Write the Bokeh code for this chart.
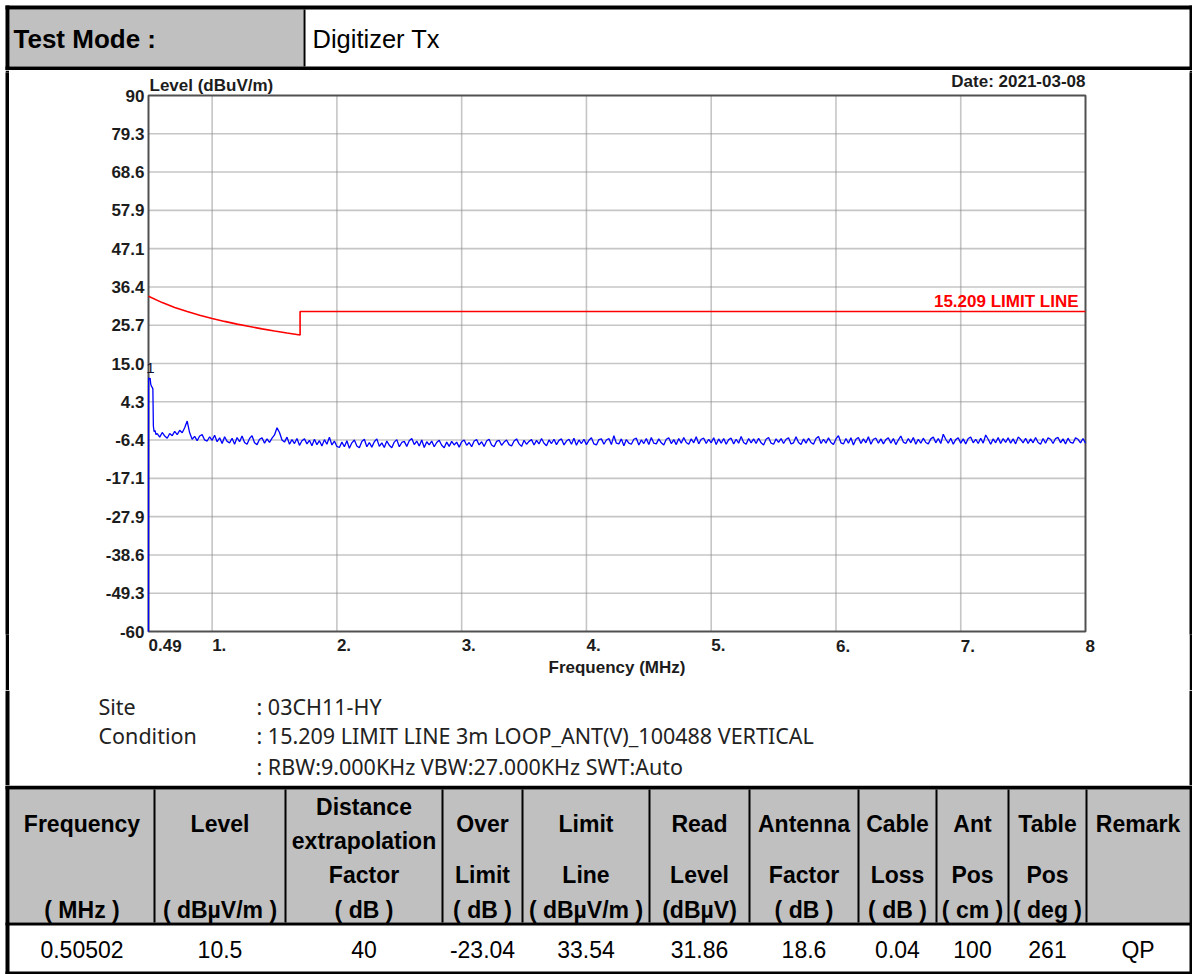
from bokeh.plotting import figure
from bokeh.layouts import column, row
from bokeh.models import Range1d, FixedTicker, Spacer
from bokeh.core.properties import value
from bokeh.embed import file_html
from bokeh.resources import INLINE

FONT = "Liberation Sans"
SITE_FONT = "Noto Sans"

# ---------------- data ----------------
TEST_MODE = "Digitizer Tx"
DATE_TEXT = "Date: 2021-03-08"
Y_LABEL = "Level (dBuV/m)"
X_LABEL = "Frequency (MHz)"
LIMIT_NAME = "15.209 LIMIT LINE"

X_TICKS = [0.49, 1.0, 2.0, 3.0, 4.0, 5.0, 6.0, 7.0, 8.0]
X_TICK_LABELS = ["0.49", "1.", "2.", "3.", "4.", "5.", "6.", "7.", "8"]
Y_MIN, Y_MAX, Y_DIV = -60.0, 90.0, 14
Y_TICK_LABELS = ["-60", "-49.3", "-38.6", "-27.9", "-17.1", "-6.4", "4.3", "15.0",
                 "25.7", "36.4", "47.1", "57.9", "68.6", "79.3", "90"]

LIMIT_FREQ = [0.49, 0.6, 0.7, 0.8, 0.9, 1.0, 1.1, 1.2, 1.3, 1.4, 1.5, 1.6, 1.705, 1.705, 8.0]
LIMIT_LEVEL = [33.80, 32.04, 30.70, 29.54, 28.52, 27.60, 26.78, 26.02, 25.33, 24.68,
               24.08, 23.52, 22.97, 29.54, 29.54]

EARLY_FREQ = [0.490, 0.491, 0.497, 0.503, 0.508, 0.514, 0.520, 0.525, 0.529, 0.535, 0.542, 0.550]
EARLY_LEVEL = [-60.0, 11.0, 10.6, 10.9, 9.2, 8.6, 8.3, 7.9, -2.5, -4.1, -3.7, -4.9]

MAIN_F0 = 0.56
MAIN_STEP = 0.02
MAIN_LEVEL = [
    -4.6, -5.6, -4.3, -5.3, -5.9, -4.6, -5.2, -4.0, -4.9, -3.7,
    -4.4, -3.0, -1.1, -4.4, -6.2, -5.4, -6.6, -5.3, -4.9, -6.4,
    -6.7, -5.5, -6.5, -5.1, -6.9, -5.8, -7.4, -5.5, -6.8, -7.2,
    -5.9, -7.6, -5.7, -6.9, -5.3, -7.1, -7.6, -6.0, -5.2, -7.2,
    -7.7, -6.2, -5.8, -7.3, -6.1, -7.1, -5.9, -5.0, -3.0, -4.3,
    -6.4, -7.0, -5.6, -7.6, -6.3, -7.4, -6.0, -7.9, -6.6, -6.1,
    -7.5, -6.5, -8.0, -6.2, -7.7, -6.6, -8.1, -6.3, -7.6, -5.6,
    -7.8, -6.7, -8.2, -8.5, -7.0, -8.3, -6.6, -8.7, -7.2, -6.4,
    -8.1, -8.6, -6.8, -6.2, -8.3, -7.1, -8.4, -6.9, -6.1, -8.2,
    -7.2, -8.5, -6.7, -7.9, -8.6, -7.0, -6.3, -8.3, -7.1, -6.8,
    -8.2, -6.6, -6.0, -7.7, -6.7, -8.1, -6.4, -8.5, -6.9, -7.8,
    -6.7, -8.3, -7.1, -6.5, -7.9, -8.6, -7.0, -8.2, -6.8, -7.8,
    -7.0, -8.4, -6.9, -6.4, -7.9, -7.1, -8.3, -6.7, -6.3, -7.8,
    -6.9, -8.2, -6.7, -6.2, -7.8, -8.3, -6.8, -6.5, -7.9, -7.0,
    -6.4, -7.7, -8.1, -6.7, -6.1, -7.5, -8.2, -6.5, -7.6, -6.8,
    -6.3, -7.8, -6.5, -7.5, -6.0, -7.3, -8.0, -6.4, -7.4, -6.2,
    -7.7, -6.5, -6.1, -7.8, -6.7, -6.2, -7.6, -5.9, -7.9, -6.4,
    -7.4, -6.2, -7.7, -6.5, -5.8, -7.5, -7.8, -6.3, -6.1, -7.6,
    -6.4, -6.0, -7.7, -5.2, -7.3, -7.5, -6.1, -8.0, -6.3, -7.3,
    -7.6, -6.2, -5.9, -7.8, -6.4, -7.4, -6.0, -7.7, -5.7, -7.3,
    -7.5, -6.1, -7.2, -7.8, -6.2, -5.8, -7.4, -6.3, -7.7, -6.0,
    -7.3, -5.7, -7.1, -7.6, -6.1, -7.2, -5.5, -7.5, -6.2, -5.9,
    -7.4, -6.2, -7.2, -5.8, -7.7, -6.1, -7.3, -6.0, -7.6, -6.3,
    -5.9, -7.5, -6.2, -7.3, -5.4, -7.1, -7.6, -6.0, -7.2, -6.1,
    -7.4, -5.9, -7.2, -7.8, -6.2, -5.7, -7.3, -7.6, -6.1, -7.1,
    -6.0, -7.4, -6.2, -5.8, -7.5, -7.2, -5.5, -7.1, -7.7, -6.1,
    -7.3, -5.9, -7.1, -7.6, -6.0, -5.4, -7.4, -6.2, -7.3, -5.8,
    -7.1, -7.7, -6.1, -5.2, -7.2, -7.5, -6.0, -7.3, -5.8, -7.8,
    -6.2, -5.7, -7.4, -6.1, -7.2, -5.5, -7.6, -6.2, -5.9, -7.3,
    -6.1, -7.5, -6.3, -5.8, -7.3, -6.0, -7.7, -6.4, -5.3, -7.0,
    -7.4, -6.0, -7.2, -5.7, -7.6, -6.2, -7.3, -5.9, -7.1, -7.5,
    -6.1, -5.6, -7.2, -6.0, -7.4, -4.8, -6.2, -7.3, -5.9, -7.6,
    -6.3, -5.8, -7.3, -6.1, -7.5, -6.0, -5.6, -7.2, -6.2, -7.4,
    -5.9, -7.3, -5.0, -6.2, -7.6, -6.1, -7.2, -5.7, -7.4, -6.0,
    -7.1, -5.8, -7.3, -6.1, -7.5, -5.6, -6.2, -7.2, -5.9, -7.4,
    -6.1, -7.2, -5.7, -7.1, -7.6, -6.0, -7.3, -5.8, -6.2, -7.4,
    -6.0, -5.7, -7.2, -6.1, -7.5, -5.9, -7.1, -7.3, -5.8, -6.2,
    -7.2, -6.0, -7.3,
]

MARKER_FREQ = [0.505]
MARKER_LEVEL = [10.5]
MARKER_TEXT = ["1"]

SITE_KEYS = ["Site", "Condition"]
SITE_VALUES = [": 03CH11-HY",
               ": 15.209 LIMIT LINE 3m LOOP_ANT(V)_100488 VERTICAL",
               ": RBW:9.000KHz VBW:27.000KHz SWT:Auto"]

HEAD_1 = ["Frequency", "Level", "", "Over", "Limit", "Read", "Antenna", "Cable", "Ant", "Table", "Remark"]
HEAD_DIST = ["Distance", "extrapolation"]
HEAD_2 = ["", "", "Factor", "Limit", "Line", "Level", "Factor", "Loss", "Pos", "Pos", ""]
HEAD_3 = ["( MHz )", "( dBµV/m )", "( dB )", "( dB )", "( dBµV/m )", "(dBµV)",
          "( dB )", "( dB )", "( cm )", "( deg )", ""]
ROW_1 = ["0.50502", "10.5", "40", "-23.04", "33.54", "31.86", "18.6", "0.04", "100", "261", "QP"]

# ---------------- layout helpers ----------------
W = 1192
BLACK = "#000000"
GRAY = "#c0c0c0"
COL_EDGES = [9, 154, 285, 442, 522, 649, 749, 858, 936, 1008, 1086, 1189]


def canvas(w, h, x0, y0):
    f = figure(width=w, height=h, x_range=Range1d(x0, x0 + w), y_range=Range1d(y0 + h, y0),
               output_backend="svg", toolbar_location=None, min_border=0,
               x_axis_location=None, y_axis_location=None)
    f.grid.visible = False
    f.outline_line_color = None
    f.background_fill_color = "white"
    f.border_fill_color = "white"
    return f


def solid(w, h, color):
    f = figure(width=w, height=h, output_backend="svg", toolbar_location=None, min_border=0,
               x_axis_location=None, y_axis_location=None)
    f.grid.visible = False
    f.outline_line_color = None
    f.background_fill_color = color
    f.border_fill_color = color
    return f


def bars(f, lst, color):
    f.quad(left=[b[0] for b in lst], right=[b[1] for b in lst],
           top=[b[2] for b in lst], bottom=[b[3] for b in lst],
           fill_color=color, line_color=None)


# ---------------- header ----------------
hdr = canvas(W, 70, 0, 0)
bars(hdr, [(9, 303, 9, 66)], GRAY)
bars(hdr, [(5, W, 5, 9), (5, 9, 5, 70), (1189, W, 5, 70), (5, W, 66, 69.5), (303, 305, 9, 66)], BLACK)
hdr.text(x=[13], y=[38], text=["Test Mode :"], text_font=value(FONT), text_font_size="26px",
         text_font_style="bold", text_baseline="middle", text_align="left", text_color="black")
hdr.text(x=[312], y=[38], text=[TEST_MODE], text_font=value(FONT), text_font_size="25.5px",
         text_baseline="middle", text_align="left", text_color="black")

# ---------------- chart ----------------
CH_H = 620
# pixel geometry of the plot box (page coordinates)
BOX_L, BOX_R, BOX_T, BOX_B = 148, 1085, 95, 631
PAD_T, PAD_O = 23, 3
ppx = (BOX_R - BOX_L) / (X_TICKS[-1] - X_TICKS[0])
ppy = (BOX_B - BOX_T) / (Y_MAX - Y_MIN)

p = figure(width=1180, height=CH_H,
           x_range=Range1d(X_TICKS[0] - PAD_O / ppx, X_TICKS[-1] + PAD_O / ppx),
           y_range=Range1d(Y_MIN - PAD_O / ppy, Y_MAX + PAD_T / ppy),
           output_backend="svg", toolbar_location=None,
           min_border_left=BOX_L - PAD_O - 9, min_border_right=1189 - (BOX_R + PAD_O),
           min_border_top=(BOX_T - PAD_T) - 70, min_border_bottom=70 + CH_H - (BOX_B + PAD_O))
p.background_fill_color = "white"
p.border_fill_color = "white"
p.outline_line_color = None
p.grid.visible = False

y_ticks = [Y_MIN + (Y_MAX - Y_MIN) * k / Y_DIV for k in range(Y_DIV + 1)]

LBL_COLOR = "#1c1c1c"
for ax in (p.xaxis[0], p.yaxis[0]):
    ax.axis_line_color = None
    ax.major_tick_out = 0
    ax.major_tick_in = 0
    ax.minor_tick_out = 0
    ax.minor_tick_in = 0
    ax.major_label_text_font = FONT
    ax.major_label_text_font_size = "17px"
    ax.major_label_text_font_style = "bold"
    ax.major_label_text_color = LBL_COLOR

p.xaxis.ticker = FixedTicker(ticks=X_TICKS)
p.xaxis.major_label_overrides = {t: l for t, l in zip(X_TICKS, X_TICK_LABELS)}
p.xaxis.major_label_orientation = -1e-6
p.xaxis.major_label_standoff = 11
p.xaxis.axis_label = X_LABEL
p.xaxis.axis_label_text_font = FONT
p.xaxis.axis_label_text_font_size = "17px"
p.xaxis.axis_label_text_font_style = "bold"
p.xaxis.axis_label_text_color = LBL_COLOR
p.xaxis.axis_label_standoff = -3

p.yaxis.ticker = FixedTicker(ticks=y_ticks)
p.yaxis.major_label_overrides = {t: l for t, l in zip(y_ticks, Y_TICK_LABELS)}
p.yaxis.major_label_standoff = 1

# grid lines (dotted) drawn on the tick values, limited to the plot box
GRID_COLOR = "#8c8c8c"
vx = X_TICKS[1:-1]
p.segment(x0=vx, x1=vx, y0=[Y_MIN] * len(vx), y1=[Y_MAX] * len(vx),
          line_color=GRID_COLOR, line_width=1.6, line_dash="1 1")
hy = y_ticks[1:-1]
p.segment(x0=[X_TICKS[0]] * len(hy), x1=[X_TICKS[-1]] * len(hy), y0=hy, y1=hy,
          line_color=GRID_COLOR, line_width=1.6, line_dash="1 1")
# plot box
p.quad(left=[X_TICKS[0]], right=[X_TICKS[-1]], bottom=[Y_MIN], top=[Y_MAX],
       fill_color=None, line_color="#505050", line_width=2)

p.line(LIMIT_FREQ, LIMIT_LEVEL, line_color="#ff0000", line_width=1.6)

trace_f = EARLY_FREQ + [MAIN_F0 + MAIN_STEP * i for i in range(len(MAIN_LEVEL))]
trace_l = EARLY_LEVEL + MAIN_LEVEL
p.line(trace_f, trace_l, line_color="#0000ff", line_width=1.3)

p.text(x=MARKER_FREQ, y=MARKER_LEVEL, text=MARKER_TEXT, y_offset=-12, text_align="center",
       text_baseline="middle", text_font=value(FONT), text_font_size="15px", text_color="#101030")

p.text(x=[X_TICKS[-1]], y=[LIMIT_LEVEL[-1]], text=[LIMIT_NAME], x_offset=-7, y_offset=-10.5,
       text_align="right", text_baseline="middle", text_font=value(FONT),
       text_font_size="17px", text_font_style="bold", text_color="#ff0000")

p.text(x=[X_TICKS[0]], y=[Y_MAX], text=[Y_LABEL], x_offset=1, y_offset=-10.5,
       text_align="left", text_baseline="middle", text_font=value(FONT),
       text_font_size="17px", text_font_style="bold", text_color=LBL_COLOR)
p.text(x=[X_TICKS[-1]], y=[Y_MAX], text=[DATE_TEXT], x_offset=0, y_offset=-14.5,
       text_align="right", text_baseline="middle", text_font=value(FONT),
       text_font_size="17px", text_font_style="bold", text_color=LBL_COLOR)

chart_row = row(Spacer(width=5, height=CH_H), solid(4, CH_H, BLACK), p, solid(3, CH_H, BLACK),
                spacing=0)

# ---------------- site info ----------------
SITE_TOP, SITE_H = 690, 95
site = canvas(W, SITE_H, 0, SITE_TOP)
bars(site, [(5, 9, SITE_TOP, SITE_TOP + SITE_H), (1189, W, SITE_TOP, SITE_TOP + SITE_H)], BLACK)
site.text(x=[98, 98], y=[706, 735], text=SITE_KEYS, text_font=value(SITE_FONT),
          text_font_size="21.5px", text_align="left", text_baseline="middle", text_color="#222222")
site.text(x=[256, 256, 256], y=[706, 735, 766], text=SITE_VALUES, text_font=value(SITE_FONT),
          text_font_size="21.5px", text_align="left", text_baseline="middle", text_color="#222222")

# ---------------- table ----------------
T_TOP, T_H = 785, 189
tab = canvas(W, T_H, 0, T_TOP)
bars(tab, [(9, 1189, 789, 922)], GRAY)
seps = [(e - 1, e + 1, 789, 922) for e in COL_EDGES[1:-1]]
bars(tab, [(5, W, 785, 789), (5, 9, 785, 974), (1189, W, 785, 974), (5, W, 922, 925),
           (5, W, 971, 974)] + seps, BLACK)
centers = [(COL_EDGES[i] + COL_EDGES[i + 1]) / 2 for i in range(len(COL_EDGES) - 1)]


def row_text(texts, y, bold=True, size="23px"):
    xs = [c for c, t in zip(centers, texts) if t]
    ts = [t for t in texts if t]
    tab.text(x=xs, y=[y] * len(xs), text=ts, text_font=value(FONT), text_font_size=size,
             text_font_style="bold" if bold else "normal", text_align="center",
             text_baseline="middle", text_color="black")


row_text(HEAD_1, 823)
tab.text(x=[centers[2], centers[2]], y=[806, 840], text=HEAD_DIST, text_font=value(FONT),
         text_font_size="23px", text_font_style="bold", text_align="center",
         text_baseline="middle", text_color="black")
row_text(HEAD_2, 874)
row_text(HEAD_3, 909)
row_text(ROW_1, 949, bold=False)

layout = column(hdr, chart_row, site, tab, spacing=0)
open("out.html", "w").write(file_html(layout, INLINE))
